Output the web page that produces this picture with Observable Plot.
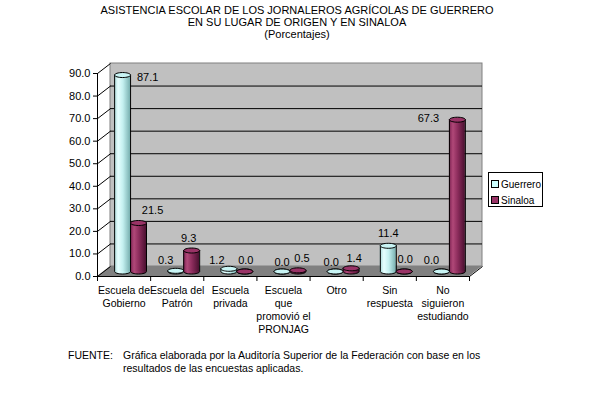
<!DOCTYPE html>
<html>
<head>
<meta charset="utf-8">
<script src="https://cdn.jsdelivr.net/npm/d3@7"></script>
<script src="https://cdn.jsdelivr.net/npm/@observablehq/plot@0.6"></script>
<style>
  body { margin: 0; background: #fff; font-family: "Liberation Sans", Arial, sans-serif; color: #000; }
  #wrap { position: relative; width: 612px; height: 400px; overflow: hidden; background: #fff; }
  #title { width: 594px; height: 40px; box-sizing: border-box; padding-top: 4px; text-align: center; font-size: 11px; line-height: 12px; }
  #legend { position: absolute; left: 488px; top: 172px; width: 55px; height: 35px; box-sizing: border-box; border: 1px solid #000; background: #fff; font-size: 10px; }
  #legend .item { position: absolute; left: 2px; height: 12px; line-height: 12px; white-space: nowrap; }
  #legend .sw { display: inline-block; width: 6px; height: 6px; border: 1px solid #000; margin-right: 2px; vertical-align: 0px; }
  #caption { position: absolute; left: 0; top: 349px; width: 612px; font-size: 10.5px; line-height: 13px; }
  #caption .lab { position: absolute; left: 68px; top: 0; }
  #caption .txt { position: absolute; left: 123px; top: 0; width: 380px; }
</style>
</head>
<body>
<div id="wrap">
  <div id="title">ASISTENCIA ESCOLAR DE LOS JORNALEROS AGRÍCOLAS DE GUERRERO<br>EN SU LUGAR DE ORIGEN Y EN SINALOA<br>(Porcentajes)</div>
  <div id="chart"></div>
  <div id="legend"></div>
  <div id="caption"><span class="lab">FUENTE:</span><span class="txt">Gráfica elaborada por la Auditoría Superior de la Federación con base en los resultados de las encuestas aplicadas.</span></div>
</div>
<script>
// Categories (tick labels, with their line breaks)
const categories = [
  "Escuela de\nGobierno",
  "Escuela del\nPatrón",
  "Escuela\nprivada",
  "Escuela\nque\npromovió el\nPRONJAG",
  "Otro",
  "Sin\nrespuesta",
  "No\nsiguieron\nestudiando"
];
// Percentages per series
const guerrero = [87.1, 0.3, 1.2, 0.0, 0.0, 11.4, 0.0];
const sinaloa  = [21.5, 9.3, 0.0, 0.5, 1.4, 0.0, 67.3];
const seriesNames = ["Guerrero", "Sinaloa"];
const yTicks = [0, 10, 20, 30, 40, 50, 60, 70, 80, 90];

// Label nudges (pixels) for the value labels, per series and category
const labelNudgeG = [[25, 13], [-10, 1], [-12, 3], [0, 2], [-4, 2], [0, -1], [-10, 0]];
const labelNudgeS = [[14, -2], [-3, -1], [1, 0], [4, -1], [3, 1], [1, -1], [-29, 10]];

// Layout
const W = 612, H = 300, ml = 97, mr = 143, mt = 33, mb = 64;
const nCat = categories.length;
const pxX = nCat / (W - ml - mr);   // x data units per pixel
const pxY = 90 / (H - mt - mb);     // y data units per pixel
const DEPTH_X = 13, DEPTH_Y = 10;   // full depth of the box, pixels
const MID_X = 6.5, MID_Y = 5;       // bars sit halfway into the depth

const colors = {
  Guerrero: { body: "url(#gBody)", top: "#c8f4f4", swatch: "#ccffff" },
  Sinaloa:  { body: "url(#sBody)", top: "#993366", swatch: "#993366" }
};

// One row per bar
const bars = [];
categories.forEach((c, i) => {
  bars.push({ series: "Guerrero", i, value: guerrero[i], x1: i + 0.2, x2: i + 0.5, nudge: labelNudgeG[i] });
  bars.push({ series: "Sinaloa",  i, value: sinaloa[i],  x1: i + 0.5, x2: i + 0.8, nudge: labelNudgeS[i] });
});

// Flat ellipse used for the ends of the cylinders
const ellipse = {
  draw(ctx) {
    const rx = 8, ry = 2.5, k = 0.5523;
    ctx.moveTo(-rx, 0);
    ctx.bezierCurveTo(-rx, -ry * k, -rx * k, -ry, 0, -ry);
    ctx.bezierCurveTo(rx * k, -ry, rx, -ry * k, rx, 0);
    ctx.bezierCurveTo(rx, ry * k, rx * k, ry, 0, ry);
    ctx.bezierCurveTo(-rx * k, ry, -rx, ry * k, -rx, 0);
    ctx.closePath();
  }
};

const floor = [
  { xa: 0,    ya: 0, xb: DEPTH_X * pxX,        yb: DEPTH_Y * pxY },
  { xa: nCat, ya: 0, xb: nCat + DEPTH_X * pxX, yb: DEPTH_Y * pxY }
];

function cylinderMarks(name) {
  const rows = bars.filter(d => d.series === name);
  const col = colors[name];
  const off = { dx: MID_X, dy: -MID_Y };
  return [
    Plot.dot(rows, { x: d => (d.x1 + d.x2) / 2, y: () => 0, symbol: ellipse, fill: col.body, stroke: "#000", strokeWidth: 1, ...off }),
    Plot.rect(rows, { x1: "x1", x2: "x2", y1: () => 0, y2: "value", fill: col.body, ...off }),
    Plot.ruleX(rows, { x: "x1", y1: () => 0, y2: "value", stroke: "#000", ...off }),
    Plot.ruleX(rows, { x: "x2", y1: () => 0, y2: "value", stroke: "#000", ...off }),
    Plot.dot(rows, { x: d => (d.x1 + d.x2) / 2, y: "value", symbol: ellipse, fill: col.top, stroke: "#000", strokeWidth: 1, ...off })
  ];
}

const chart = Plot.plot({
  width: W, height: H,
  marginLeft: ml, marginRight: mr, marginTop: mt, marginBottom: mb,
  x: { domain: [0, nCat], axis: null },
  y: { domain: [0, 90], axis: null },
  style: { fontFamily: "'Liberation Sans', Arial, sans-serif", fontSize: "11px", background: "#fff", overflow: "visible", color: "#000" },
  marks: [
    // floor of the box
    Plot.area(floor, { x1: "xa", y1: "ya", x2: "xb", y2: "yb", fill: "#808080" }),
    // back wall and its gridlines
    Plot.rect([0], { x1: 0, x2: nCat, y1: 0, y2: 90, dx: DEPTH_X, dy: -DEPTH_Y, fill: "#c0c0c0", stroke: "#808080" }),
    Plot.ruleY(yTicks.filter(t => t > 0 && t < 90), { x1: 0, x2: nCat, dx: DEPTH_X, dy: -DEPTH_Y, stroke: "#000" }),
    // depth connectors from the value axis to the wall
    Plot.link(yTicks, { x1: 0, y1: d => d, x2: DEPTH_X * pxX, y2: d => d + DEPTH_Y * pxY, stroke: "#000" }),
    Plot.link([0], { x1: nCat, y1: 0, x2: nCat + DEPTH_X * pxX, y2: DEPTH_Y * pxY, stroke: "#000" }),
    // value axis
    Plot.ruleX([0], { y1: 0, y2: 90, stroke: "#000" }),
    Plot.ruleY(yTicks, { x1: -4 * pxX, x2: 0, stroke: "#000" }),
    Plot.text(yTicks, { x: 0, y: d => d, dx: -7, textAnchor: "end", text: d => d.toFixed(1), fill: "#000" }),
    // category axis
    Plot.ruleY([0], { x1: 0, x2: nCat, stroke: "#000" }),
    Plot.ruleX(d3.range(nCat + 1), { y1: 0, y2: -5 * pxY, stroke: "#000" }),
    Plot.text(categories, { x: (d, i) => i + 0.5, y: () => 0, dy: 8, lineAnchor: "top", lineHeight: 1.24, fontSize: 10.5, text: d => d, fill: "#000" }),
    // cylinders
    ...cylinderMarks("Guerrero"),
    ...cylinderMarks("Sinaloa"),
    // value labels
    Plot.text(bars, {
      x: d => (d.x1 + d.x2) / 2, y: "value",
      dx: MID_X, dy: -MID_Y - 11,
      text: d => d.value.toFixed(1), fill: "#000"
    })
  ]
});

// apply per-label nudges to the value labels (the last text mark)
d3.select(chart).selectAll("g[aria-label='text']").filter((_, k, nodes) => k === nodes.length - 1)
  .selectAll("text").each(function (_, k) {
    const n = bars[k].nudge;
    const t = this.getAttribute("transform") || "";
    this.setAttribute("transform", t + ` translate(${n[0]},${n[1]})`);
  });

// gradients for the cylinder bodies
const defs = d3.select(chart).insert("defs", ":first-child");
function grad(id, stops) {
  const g = defs.append("linearGradient").attr("id", id).attr("x1", "0%").attr("x2", "100%").attr("y1", "0%").attr("y2", "0%");
  stops.forEach(([o, c]) => g.append("stop").attr("offset", o).attr("stop-color", c));
}
grad("gBody", [["0%", "#a8d8d8"], ["25%", "#e6ffff"], ["55%", "#c4f0f0"], ["100%", "#78b0b0"]]);
grad("sBody", [["0%", "#7a2050"], ["25%", "#b04878"], ["55%", "#8c2c5c"], ["100%", "#4a1030"]]);

document.getElementById("chart").appendChild(chart);

// legend
const legend = d3.select("#legend");
seriesNames.forEach((s, k) => {
  const item = legend.append("div").attr("class", "item").style("top", (k === 0 ? 6 : 22) + "px");
  item.append("span").attr("class", "sw").style("background", colors[s].swatch);
  item.append("span").text(s);
});
</script>
</body>
</html>
